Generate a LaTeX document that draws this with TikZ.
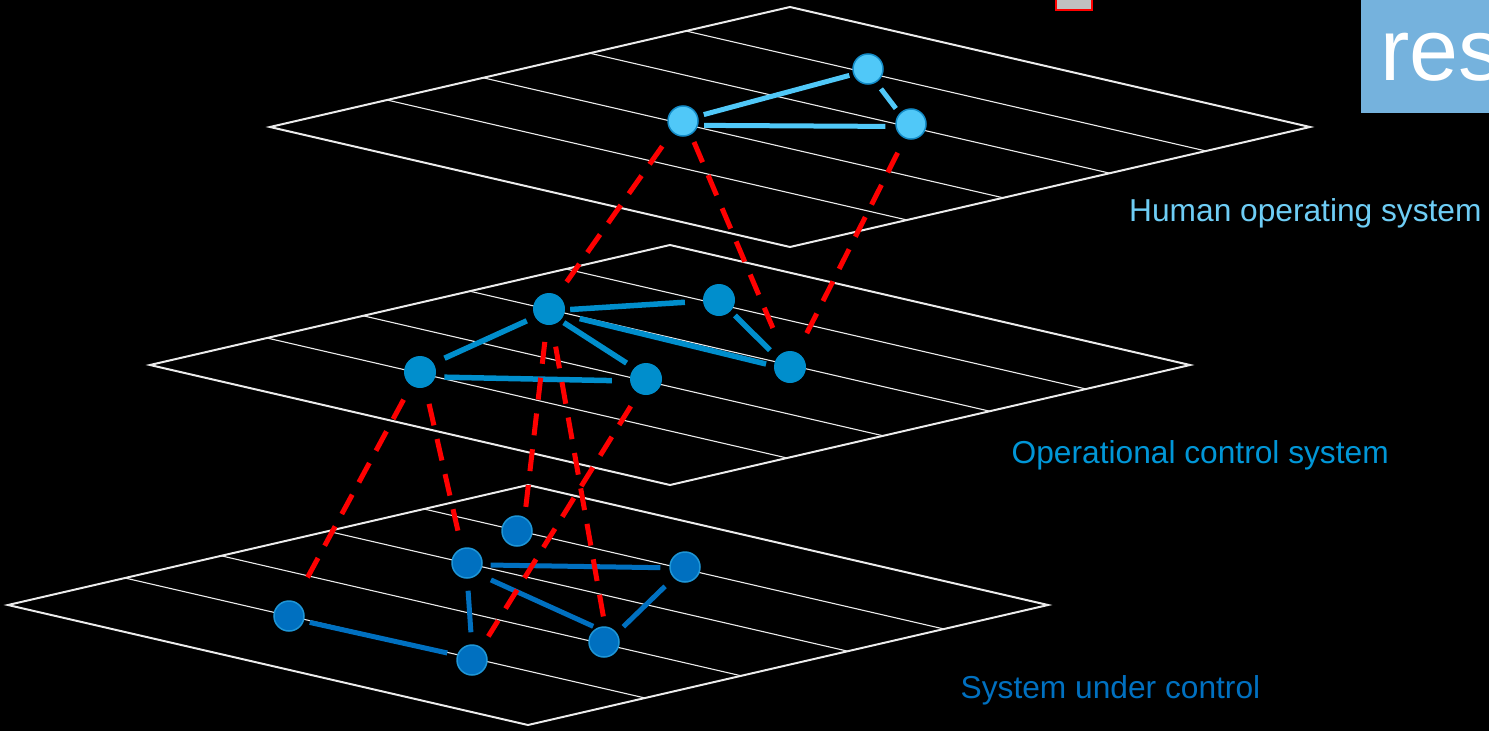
\documentclass[tikz,border=0pt]{standalone}
\usepackage{fontspec}
\setmainfont{Liberation Sans}
\definecolor{topfill}{RGB}{80,200,248}
\definecolor{topedge}{RGB}{20,140,200}
\definecolor{midfill}{RGB}{0,142,204}
\definecolor{botfill}{RGB}{0,112,192}
\definecolor{botedge}{RGB}{30,150,215}
\definecolor{toplabel}{RGB}{110,205,245}
\definecolor{midlabel}{RGB}{0,150,215}
\definecolor{botlabel}{RGB}{0,112,192}
\definecolor{resblue}{RGB}{117,178,221}
\definecolor{boxgray}{RGB}{192,192,192}
\definecolor{planewhite}{RGB}{235,235,235}

\tikzset{
  planeedge/.style={draw=planewhite, line width=2pt, line join=miter},
  gridline/.style={draw=planewhite, line width=1.1pt},
  dotT/.style={circle, minimum size=30pt, inner sep=0pt, fill=topfill, draw=topedge, line width=1.5pt},
  dotM/.style={circle, minimum size=32pt, inner sep=0pt, fill=midfill},
  dotB/.style={circle, minimum size=30pt, inner sep=0pt, fill=botfill, draw=botedge, line width=1.5pt},
  linkT/.style={draw=topfill, line width=5pt},
  linkM/.style={draw=midfill, line width=5.5pt},
  linkB/.style={draw=botfill, line width=5pt},
  layerlink/.style={draw=red, line width=5pt, dash pattern=on 22pt off 14pt},
  layerlabel/.style={anchor=base west, inner sep=0pt, font=\fontsize{31.7}{38}\selectfont}
}

% one layer: a rhombus with its left corner at (#1,#2) and four grid lines
\newcommand{\drawplane}[2]{%
  \draw[planeedge] (#1,#2) -- ++(520,-120) -- ++(520,120) -- ++(-520,120) -- cycle;
  \foreach \f in {0.225,0.41,0.615,0.80}
    \draw[gridline] ({#1+\f*520},{#2-\f*120}) -- ++(520,120);
}

\begin{document}
\begin{tikzpicture}[x=1pt,y=-1pt]
  \clip (0,0) rectangle (1489,731);
  \fill[black] (0,0) rectangle (1489,731);

  % header elements
  \filldraw[fill=boxgray, draw=red, line width=2pt] (1056,-3) rectangle (1092,10);
  \fill[resblue] (1361,-2) rectangle (1495,112.5);
  \node[anchor=base west, inner sep=0pt, text=white, font=\fontsize{88}{100}\selectfont] (res) at (1380,80) {res};

  % the three layers
  \drawplane{270}{127}
  \drawplane{150}{365}
  \drawplane{8}{605}

  % human operating system
  \node[dotT] (A) at (683,121) {};
  \node[dotT] (B) at (868,69) {};
  \node[dotT] (C) at (911,124) {};

  % operational control system
  \node[dotM] (D) at (549,309) {};
  \node[dotM] (E) at (420,372) {};
  \node[dotM] (F) at (646,379) {};
  \node[dotM] (G) at (719,300) {};
  \node[dotM] (H) at (790,367) {};

  % system under control
  \node[dotB] (I) at (289,616) {};
  \node[dotB] (K) at (517,531) {};
  \node[dotB] (J) at (467,563) {};
  \node[dotB] (M) at (472,660) {};
  \node[dotB] (N) at (685,567) {};
  \node[dotB] (L) at (604,642) {};

  % links inside the top layer
  \draw[linkT, shorten <=6pt, shorten >=4pt] (A.18) -- (B.200);
  \draw[linkT, shorten <=6pt, shorten >=10pt] (A.-16) -- (C.189);
  \draw[linkT, shorten <=8pt, shorten >=6pt] (B.-59) -- (C.137);

  % links inside the middle layer
  \draw[linkM, shorten <=5pt, shorten >=18pt] (D.-3) -- (G.184);
  \draw[linkM, shorten <=9pt, shorten >=12pt] (D.210) -- (E.33);
  \draw[linkM, shorten <=4pt, shorten >=9pt] (D.-45) -- (F.137);
  \draw[linkM, shorten <=16pt, shorten >=8pt] (D.-21) -- (H.176);
  \draw[linkM, shorten <=9pt, shorten >=18pt] (E.-18) -- (F.187);
  \draw[linkM, shorten <=6pt, shorten >=10pt] (G.-44) -- (H.143);

  % links inside the bottom layer
  \draw[linkB, shorten <=6pt, shorten >=10pt] (I.-19) -- (M.162);
  \draw[linkB, shorten <=8pt, shorten >=9pt] (J.-7) -- (N.183);
  \draw[linkB, shorten <=14pt, shorten >=4pt] (J.-45) -- (L.117);
  \draw[linkB, shorten <=12pt, shorten >=12pt] (J.-89) -- (M.91);
  \draw[linkB, shorten <=12pt, shorten >=9pt] (N.-136) -- (L.35);

  % links between layers
  \draw[layerlink, shorten <=17pt, shorten >=12pt] (A.-134) -- (D.59);
  \draw[layerlink, shorten <=8pt, shorten >=21pt] (A.-60) -- (H.115);
  \draw[layerlink, shorten <=16pt, shorten >=18pt] (C.-113) -- (H.64);
  \draw[layerlink, shorten <=16pt, shorten >=21pt] (E.-123) -- (I.69);
  \draw[layerlink, shorten <=17pt, shorten >=15pt] (E.-71) -- (J.109);
  \draw[layerlink, shorten <=17pt, shorten >=6pt] (D.-98) -- (K.61);
  \draw[layerlink, shorten <=22pt, shorten >=2pt] (D.-80) -- (L.86);
  \draw[layerlink, shorten <=15pt, shorten >=13pt] (F.-117) -- (M.53);

  % layer names
  \node[layerlabel, text=toplabel] (nameT) at (1129,221) {Human operating system};
  \node[layerlabel, text=midlabel] (nameM) at (1011.5,463.5) {Operational control system};
  \node[layerlabel, text=botlabel] (nameB) at (960.5,698) {System under control};
\end{tikzpicture}
\end{document}
